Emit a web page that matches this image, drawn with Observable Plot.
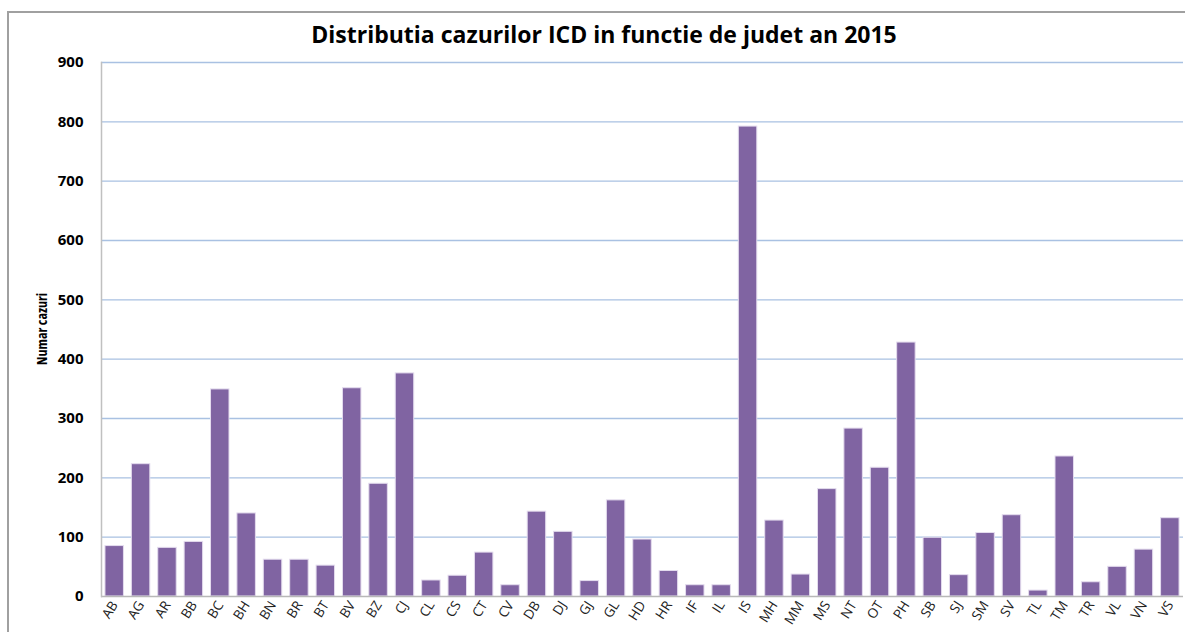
<!DOCTYPE html>
<html>
<head>
<meta charset="utf-8">
<script src="https://cdn.jsdelivr.net/npm/d3@7"></script>
<script src="https://cdn.jsdelivr.net/npm/@observablehq/plot@0.6"></script>
<style>
  html, body { margin: 0; padding: 0; background: #fff; }
  #wrap { position: relative; width: 1185px; height: 632px; overflow: hidden; }
  #border { position: absolute; left: 7px; top: 11px; width: 1200px; height: 700px; border: 2px solid #a0a0a0; box-sizing: border-box; }
  #title { position: absolute; left: 0; width: 1208px; top: 19px; text-align: center; font-family: "Open Sans", sans-serif; font-weight: bold; font-size: 23px; line-height: 31px; color: #000; }
  #ylabel { position: absolute; left: 41px; top: 329px; transform: translate(-50%, -50%) rotate(-90deg); font-family: "Liberation Sans Narrow", "Arial Narrow", "Open Sans", sans-serif; font-stretch: condensed; font-weight: bold; font-size: 14px; white-space: nowrap; color: #000; }
  #chart { position: absolute; left: 0; top: 0; }
</style>
</head>
<body>
<div id="wrap">
  <div id="border"></div>
  <div id="chart"></div>
  <div id="title">Distributia cazurilor ICD in functie de judet an 2015</div>
  <div id="ylabel">Numar cazuri</div>
</div>
<script>
const judete = ["AB","AG","AR","BB","BC","BH","BN","BR","BT","BV","BZ","CJ","CL","CS","CT","CV","DB","DJ","GJ","GL","HD","HR","IF","IL","IS","MH","MM","MS","NT","OT","PH","SB","SJ","SM","SV","TL","TM","TR","VL","VN","VS"];
const cazuri = [85,223,82,92,349,140,62,62,52,351,190,376,27,35,74,19,143,109,26,162,96,43,19,19,792,128,37,181,283,217,428,99,36,107,137,10,236,24,50,79,132];
const yTicks = [0,100,200,300,400,500,600,700,800,900];

const data = judete.map((j, i) => ({judet: j, cazuri: cazuri[i]}));

const chart = Plot.plot({
  width: 1185,
  height: 632,
  marginLeft: 101,
  marginRight: 2,
  marginTop: 62,
  marginBottom: 36,
  style: {background: "transparent", overflow: "visible"},
  x: {domain: judete, paddingInner: 0.3, paddingOuter: 0.15, round: false, label: null},
  y: {domain: [0, 900], label: null},
  marks: [
    Plot.gridY(yTicks.filter(d => d > 0), {stroke: "#a9c1e2", strokeOpacity: 1, strokeWidth: 1.3}),
    Plot.barY(data, {x: "judet", y: "cazuri", fill: "#8064a2", stroke: "#e4dcee", strokeWidth: 1}),
    Plot.ruleY([0], {stroke: "#b8b8b8", strokeWidth: 1.5}),
    Plot.frame({anchor: "left", stroke: "#c0c0c0", strokeWidth: 1.5}),
    Plot.axisY({ticks: yTicks, tickSize: 0, tickPadding: 18, tickFormat: d => String(d), fontSize: 15, fontWeight: "bold", fontFamily: "Open Sans, sans-serif", fill: "#000", label: null}),
    Plot.axisX({tickSize: 0, tickPadding: 6, tickRotate: -58, fontSize: 13.5, fontFamily: "Open Sans, sans-serif", fill: "#222", label: null})
  ]
});
document.getElementById("chart").appendChild(chart);
</script>
</body>
</html>
